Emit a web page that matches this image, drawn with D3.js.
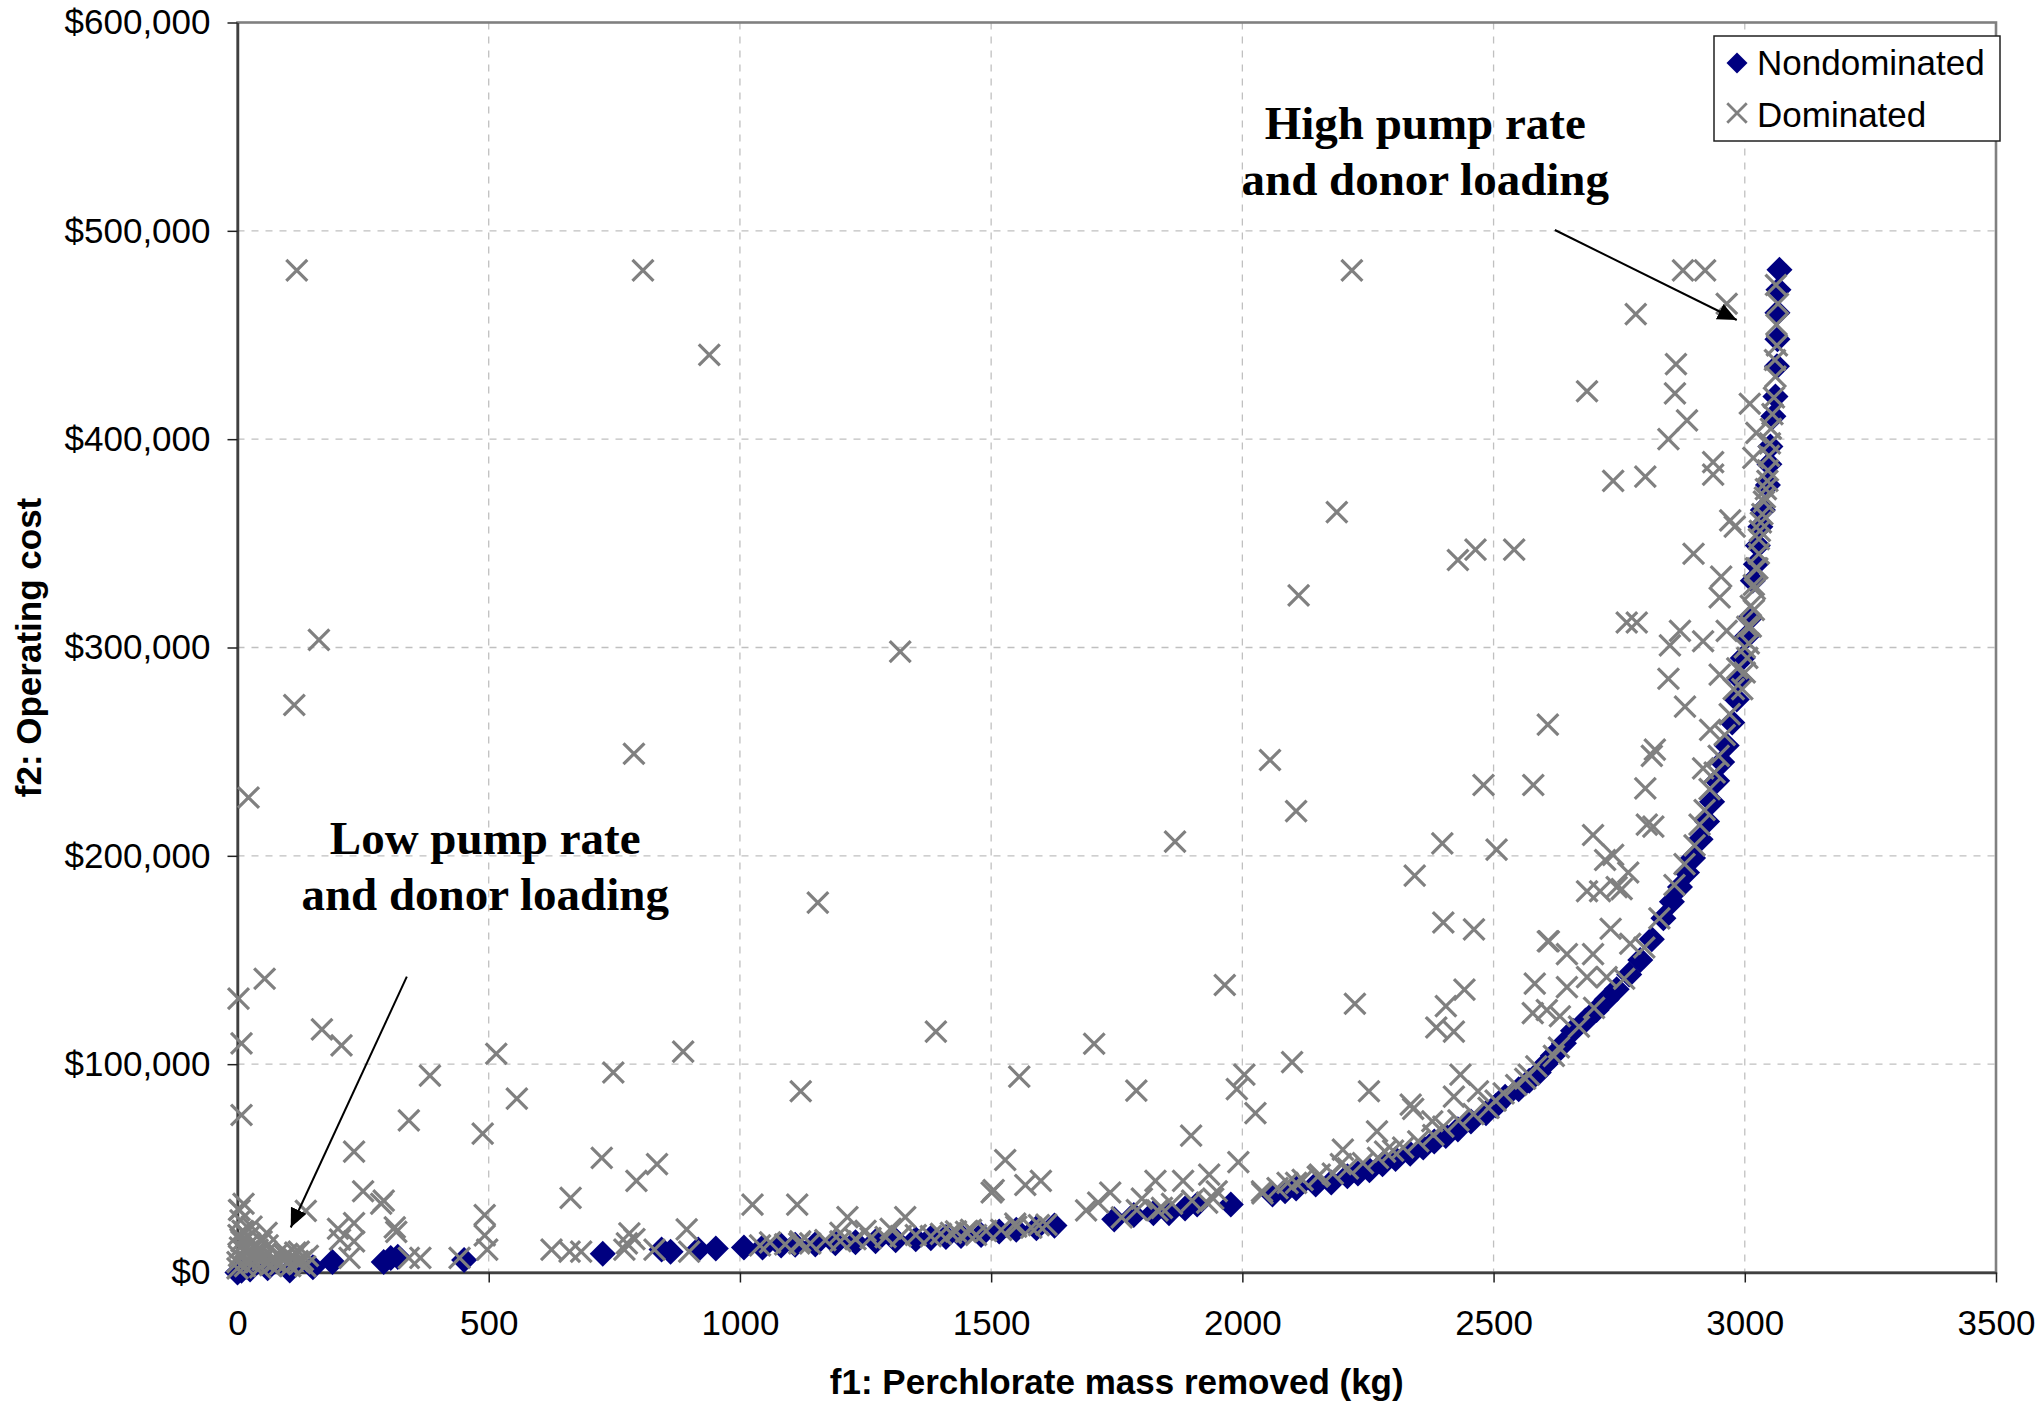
<!DOCTYPE html>
<html>
<head>
<meta charset="utf-8">
<script src="https://cdn.jsdelivr.net/npm/d3@7"></script>
<style>
  body { margin: 0; background: #fff; }
</style>
</head>
<body>
<div id="chart"></div>
<script>
// ---- data ----
const seriesNames = ['Nondominated', 'Dominated'];
const xTicks = [0, 500, 1000, 1500, 2000, 2500, 3000, 3500];
const yTicks = [0, 100000, 200000, 300000, 400000, 500000, 600000];

// [f1 kg removed, f2 operating cost $]
const nondominated = [
  [0,0],[8,800],[25,1500],[60,2000],[104,1000],[150,2500],[189,5000],[291,5000],[305,7000],[319,7500],
  [451,6000],[727,9000],[844,11000],[862,10000],[917,11000],[952,11500],[1008,12000],[1045,12000],[1082,13000],[1110,13300],
  [1150,13500],[1190,14000],[1230,14500],[1270,15000],[1310,15500],[1350,16000],[1380,16500],[1410,17000],[1440,17500],[1480,18000],
  [1516,19700],[1550,20500],[1590,21200],[1626,22500],[1745,25500],[1784,27600],[1823,28500],[1854,28500],[1886,30700],[1910,32600],
  [1977,32600],[2060,37400],[2085,39000],[2107,40300],[2146,42200],[2177,43200],[2209,46200],[2230,47500],[2253,49100],[2279,52000],
  [2305,54500],[2334,57000],[2360,60000],[2382,62900],[2405,65500],[2429,68700],[2455,72500],[2485,76500],[2505,80000],[2523,84300],
  [2550,88000],[2571,92000],[2590,96000],[2603,100000],[2618,104000],[2640,110000],[2658,116000],[2683,121000],[2705,126000],[2725,131000],
  [2745,136000],[2770,143000],[2792,150000],[2815,160000],[2838,170000],[2855,178000],[2871,185000],[2885,192000],[2897,199000],[2912,208000],
  [2925,216500],[2935,226000],[2945,236000],[2955,245000],[2964,253000],[2975,264000],[2984,275000],[2990,285000],[2996,295000],[3003,305000],
  [3010,314000],[3016,332000],[3022,340000],[3026,349000],[3031,358000],[3036,366000],[3046,378000],[3049,388000],[3051,396500],[3057,411000],
  [3061,420500],[3064,435000],[3065,448000],[3065,460700],[3067,471700],[3069,481300]
];

const dominated = [
  // scattered upper region
  [118,481000],[807,481000],[2218,481000],[2877,481000],[2921,481000],[939,440500],[2964,465000],[2783,460000],[2863,436000],[2686,423000],
  [2861,422000],[2885,409000],[2848,400000],[3010,417000],[3023,403000],[3017,391000],[2937,389000],[2937,383000],[2738,380000],[2802,382000],
  [2188,365000],[2429,342000],[2464,347000],[2541,347000],[2112,325000],[2898,345000],[2953,334000],[2950,324000],[2971,361000],[2980,358000],
  [2765,312000],[2785,312000],[2871,308000],[2851,301000],[2917,303000],[2964,308000],[1319,298000],[162,303700],[113,272400],[2848,285000],
  [2950,287000],[2881,271600],[2931,260500],[2608,263000],[2821,251000],[2815,248000],[2055,246000],[789,249000],[2917,242000],[2802,232400],
  [2480,234000],[2579,234000],[2107,221500],[22,228000],[2805,215000],[2818,214000],[2698,210000],[1866,206800],[2398,206000],[2506,203000],
  [2738,200500],[2722,198000],[2768,192000],[2343,190500],[2686,183000],[2712,183000],[2745,185000],[2755,184000],[1155,177500],[2400,168000],
  [2461,164700],[2610,159000],[2733,165000],[2608,159000],[2646,152800],[2698,152800],[2772,157800],[2686,141800],[2646,137000],[2725,141800],
  [1965,138000],[2224,129000],[2442,135800],[2405,127900],[2582,138700],[2606,126000],[2632,123000],[2386,117600],[2421,115600],[2578,124500],
  [54,141000],[2,131500],[8,110000],[168,116700],[207,109000],[1390,115600],[1705,109800],[2099,101000],[2620,104000],[8,75600],
  [383,94500],[515,105000],[748,96000],[887,106000],[556,83500],[1121,87000],[1556,94000],[2004,95000],[1989,88000],[1789,87300],
  [2252,87000],[2434,95000],[2026,76500],[2335,80600],[2340,78500],[2421,84400],[2469,87000],[341,73000],[488,66700],[1898,65700],
  [2200,59000],[2268,67700],[2284,58000],[2378,72600],[2504,82500],[2563,93000],[232,58000],[725,55000],[835,52000],[1992,53000],
  [1528,54000],[794,44000],[1501,38400],[1505,39500],[1568,42000],[1599,44000],[1882,44000],[1934,47000],[1942,35500],[2039,39000],
  [2107,43000],[2154,47000],[2196,52000],[1737,38400],[1713,33600],[1689,29800],[1800,35500],[1831,29800],[1949,39000],[1827,44000],
  [663,35800],[250,39000],[291,34500],[286,33000],[136,29600],[492,27600],[1025,32600],[1114,32600],[1214,26600],[1329,26600],
  [894,20700],[313,21700],[316,19500],[200,21000],[232,23700],[204,15800],[232,14900],[492,17800],[780,18800],[790,16000],
  [497,11000],[625,11000],[661,10000],[684,10000],[442,7000],[341,7000],[364,7000],[223,7000],[775,14000],[770,11000],
  [830,11000],[899,10000],[1118,14000],[1430,19700],[1460,20500],[1595,22700],[1548,23500],
  // along the front
  [1040,13000],[1060,14500],[1090,13500],[1120,15000],[1140,14000],[1170,15500],[1200,15000],[1230,16000],[1260,16500],[1290,17000],
  [1320,17500],[1350,18000],[1380,17500],[1300,21000],[1250,20000],[1200,19000],[1400,18500],[1420,19000],[1450,19500],[1470,18000],
  [1490,20000],[1520,20500],[1550,22000],[1580,21500],[1610,23000],[1760,26500],[1790,30000],[1840,31000],[1860,33000],[1900,34500],
  [1930,33500],[2040,38000],[2070,40500],[2090,43000],[2120,44500],[2150,46000],[2180,47500],[2210,50000],[2240,52500],[2270,55000],
  [2300,58500],[2320,60000],[2350,63000],[2380,66000],[2400,70000],[2430,73000],[2460,76000],[2490,79000],[2520,86000],[2545,90000],
  [2570,95000],[2585,99000],[2630,108000],[2670,118000],[2700,127000],[2760,141000],[2800,156000],[2830,170000],[2860,186000],[2880,196000],
  [2900,205000],[2910,215000],[2920,222000],[2930,232000],[2940,240000],[2948,248000],[2960,258000],[2970,268000],[2978,280000],[2985,290000],
  [3000,300000],[3005,310000],[3012,320000],[3018,330000],[3022,338000],[3028,352000],[3032,360000],[3038,370000],[3042,376000],[3045,380000],
  [3046,385000],[3048,392000],[3050,398000],[3052,405000],[3055,412000],[3058,420000],[3061,430000],[3060,438000],[3064,445000],[3063,455000],
  [3066,465000],[3062,474000],[3040,372000],[3035,364000],[3030,356000],[3028,345000],[3025,338000],[3020,328000],[3018,318000],[3012,310000],
  [3008,302000],[3005,295000],[3000,288000],[2995,280000],
  // cluster near the origin
  [0,2000],[0,5000],[3,8000],[5,12000],[8,15000],[2,18000],[10,20000],[6,25000],[4,30000],[12,33000],
  [15,3000],[18,6000],[20,10000],[25,14000],[22,17000],[30,4000],[35,8000],[40,11000],[45,2500],[50,6000],
  [55,9000],[60,13000],[65,3500],[70,7000],[75,5000],[80,9000],[85,4000],[90,6500],[95,8000],[100,5000],
  [105,3000],[110,7000],[115,9500],[120,5500],[125,4500],[130,6000],[135,3000],[140,8000],[28,22000],[48,15000],
  [58,19000],[99,9000],[122,10000],[76,6000],[40,10000],[3,30000],[13,19500]
];

const annotations = [
  { lines: ['High pump rate', 'and donor loading'], x: 2364, y: 544100 },
  { lines: ['Low pump rate', 'and donor loading'], x: 493, y: 201000 }
];
const arrows = [
  { from: [2622, 500400], to: [2984, 457200] },
  { from: [337, 142000], to: [106, 21600] }
];

// ---- layout ----
const W = 2039, H = 1403;
const plot = { left: 237.5, right: 1996, top: 22.5, bottom: 1272.5 };

const svg = d3.select('#chart').append('svg')
  .attr('width', W)
  .attr('height', H)
  .attr('viewBox', `0 0 ${W} ${H}`);

const x = d3.scaleLinear().domain([0, 3500]).range([plot.left, plot.right]);
const y = d3.scaleLinear().domain([0, 600000]).range([plot.bottom, plot.top]);

// gridlines
svg.append('g')
  .selectAll('line')
  .data(xTicks.slice(1, -1))
  .join('line')
  .attr('x1', d => x(d)).attr('x2', d => x(d))
  .attr('y1', plot.top).attr('y2', plot.bottom)
  .attr('stroke', '#c0c0c0')
  .attr('stroke-width', 1.3)
  .attr('stroke-dasharray', '7,7');
svg.append('g')
  .selectAll('line')
  .data(yTicks.slice(1, -1))
  .join('line')
  .attr('x1', plot.left).attr('x2', plot.right)
  .attr('y1', d => y(d)).attr('y2', d => y(d))
  .attr('stroke', '#c0c0c0')
  .attr('stroke-width', 1.3)
  .attr('stroke-dasharray', '7,7');

// plot area border
svg.append('rect')
  .attr('x', plot.left).attr('y', plot.top)
  .attr('width', plot.right - plot.left)
  .attr('height', plot.bottom - plot.top)
  .attr('fill', 'none')
  .attr('stroke', '#808080')
  .attr('stroke-width', 2.6);

// axes
const fmtMoney = d => '$' + d3.format(',')(d);
const yAxis = svg.append('g')
  .attr('transform', `translate(${plot.left},0)`)
  .call(d3.axisLeft(y).tickValues(yTicks).tickSize(10).tickSizeOuter(0).tickPadding(17).tickFormat(fmtMoney));
const xAxis = svg.append('g')
  .attr('transform', `translate(0,${plot.bottom})`)
  .call(d3.axisBottom(x).tickValues(xTicks).tickSize(10).tickSizeOuter(0).tickPadding(28).tickFormat(d3.format('d')));

[xAxis, yAxis].forEach(g => {
  g.select('.domain').attr('stroke', '#404040').attr('stroke-width', 2.5);
  g.selectAll('.tick line').attr('stroke', '#202020').attr('stroke-width', 1.5);
  g.selectAll('.tick text')
    .attr('fill', '#000')
    .style('font-family', '"Liberation Sans", Arial, sans-serif')
    .style('font-size', '35px');
});

// axis titles
svg.append('text')
  .attr('x', (plot.left + plot.right) / 2)
  .attr('y', 1394)
  .attr('text-anchor', 'middle')
  .style('font-family', '"Liberation Sans", Arial, sans-serif')
  .style('font-size', '35px')
  .style('font-weight', 'bold')
  .text('f1: Perchlorate mass removed (kg)');
svg.append('text')
  .attr('transform', `translate(41,${(plot.top + plot.bottom) / 2}) rotate(-90)`)
  .attr('text-anchor', 'middle')
  .style('font-family', '"Liberation Sans", Arial, sans-serif')
  .style('font-size', '35px')
  .style('font-weight', 'bold')
  .text('f2: Operating cost');

// marker shapes
const crossType = {
  draw(ctx, size) {
    const r = Math.sqrt(size) / 2;
    ctx.moveTo(-r, -r); ctx.lineTo(r, r);
    ctx.moveTo(r, -r); ctx.lineTo(-r, r);
  }
};
const diamondPath = d3.symbol(d3.symbolSquare, 340)();
const crossPath = d3.symbol(crossType, 440)();

// nondominated first, dominated drawn on top
svg.append('g')
  .selectAll('path')
  .data(nondominated)
  .join('path')
  .attr('d', diamondPath)
  .attr('transform', d => `translate(${x(d[0])},${y(d[1])}) rotate(45)`)
  .attr('fill', '#000080');

svg.append('g')
  .selectAll('path')
  .data(dominated)
  .join('path')
  .attr('d', crossPath)
  .attr('transform', d => `translate(${x(d[0])},${y(d[1])})`)
  .attr('fill', 'none')
  .attr('stroke', '#808080')
  .attr('stroke-width', 3.2);

// arrows
svg.append('defs').append('marker')
  .attr('id', 'head')
  .attr('viewBox', '0 0 10 10')
  .attr('refX', 10).attr('refY', 5)
  .attr('markerWidth', 19).attr('markerHeight', 19)
  .attr('markerUnits', 'userSpaceOnUse')
  .attr('orient', 'auto')
  .append('path')
  .attr('d', 'M0,0.5 L10,5 L0,9.5 Z')
  .attr('fill', '#000');

svg.append('g')
  .selectAll('line')
  .data(arrows)
  .join('line')
  .attr('x1', d => x(d.from[0])).attr('y1', d => y(d.from[1]))
  .attr('x2', d => x(d.to[0])).attr('y2', d => y(d.to[1]))
  .attr('stroke', '#000')
  .attr('stroke-width', 2)
  .attr('marker-end', 'url(#head)');

// annotation labels
const ann = svg.append('g')
  .selectAll('text')
  .data(annotations)
  .join('text')
  .attr('x', d => x(d.x))
  .attr('y', d => y(d.y))
  .attr('text-anchor', 'middle')
  .style('font-family', '"Liberation Serif", "Times New Roman", serif')
  .style('font-size', '47px')
  .style('font-weight', 'bold');
ann.selectAll('tspan')
  .data(d => d.lines.map(t => ({ t, x: x(d.x) })))
  .join('tspan')
  .attr('x', d => d.x)
  .attr('dy', (d, i) => i === 0 ? 0 : 56)
  .text(d => d.t);

// legend
const legend = svg.append('g').attr('transform', 'translate(1714,36)');
legend.append('rect')
  .attr('width', 286).attr('height', 105)
  .attr('fill', '#fff')
  .attr('stroke', '#202020')
  .attr('stroke-width', 1.5);
legend.append('path')
  .attr('d', d3.symbol(d3.symbolSquare, 220)())
  .attr('transform', 'translate(23,27) rotate(45)')
  .attr('fill', '#000080');
legend.append('path')
  .attr('d', d3.symbol(crossType, 380)())
  .attr('transform', 'translate(23,77)')
  .attr('fill', 'none')
  .attr('stroke', '#808080')
  .attr('stroke-width', 2.8);
legend.selectAll('text.lbl')
  .data(seriesNames)
  .join('text')
  .attr('class', 'lbl')
  .attr('x', 43)
  .attr('y', (d, i) => 39 + i * 52)
  .style('font-family', '"Liberation Sans", Arial, sans-serif')
  .style('font-size', '35px')
  .text(d => d);
</script>
</body>
</html>
